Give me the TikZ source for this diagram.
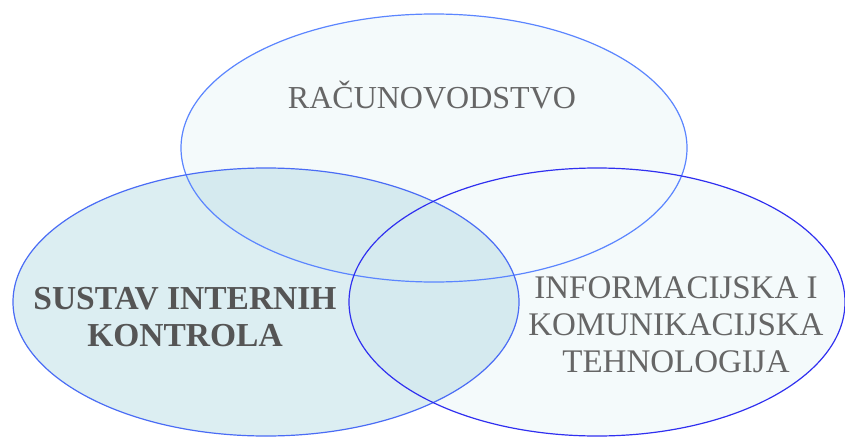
\documentclass[tikz,border=0pt]{standalone}
\usepackage{fontspec}
\setmainfont{Liberation Serif}
\definecolor{vennlight}{HTML}{F4FAFB}
\definecolor{vennleft}{HTML}{A8D4DE}
\definecolor{topline}{HTML}{5B85FF}
\definecolor{leftline}{HTML}{4A6CF5}
\definecolor{rightline}{HTML}{3030F0}
\definecolor{labelgray}{HTML}{666666}
\definecolor{boldgray}{HTML}{555555}
\begin{document}
\begin{tikzpicture}[x=1pt,y=-1pt,
  vennline/.style={line width=1.2pt},
  lbl/.style={font=\fontsize{32}{36}\selectfont, text=labelgray, align=center, inner sep=0pt}]
\useasboundingbox (0,0) rectangle (845,436);
% fills
\fill[vennlight] (434,148) ellipse [x radius=253pt, y radius=134pt];
\fill[vennlight] (597,302) ellipse [x radius=248pt, y radius=134pt];
\fill[vennleft, fill opacity=0.4] (266,302) ellipse [x radius=253pt, y radius=134pt];
% borders
\draw[vennline, topline] (434,148) ellipse [x radius=253pt, y radius=134pt];
\draw[vennline, leftline] (266,302) ellipse [x radius=253pt, y radius=134pt];
\draw[vennline, rightline] (597,302) ellipse [x radius=248pt, y radius=134pt];
% labels
\node[lbl, anchor=base] (racun) at (432,108) {RAČUNOVODSTVO};
\node[lbl, text=boldgray, font=\fontsize{33.5}{37}\selectfont\bfseries] (sik) at (185,317.5) {SUSTAV INTERNIH\\KONTROLA};
\node[lbl, font=\fontsize{33}{37}\selectfont] (ikt) at (676,325) {INFORMACIJSKA I\\KOMUNIKACIJSKA\\TEHNOLOGIJA};
\end{tikzpicture}
\end{document}
